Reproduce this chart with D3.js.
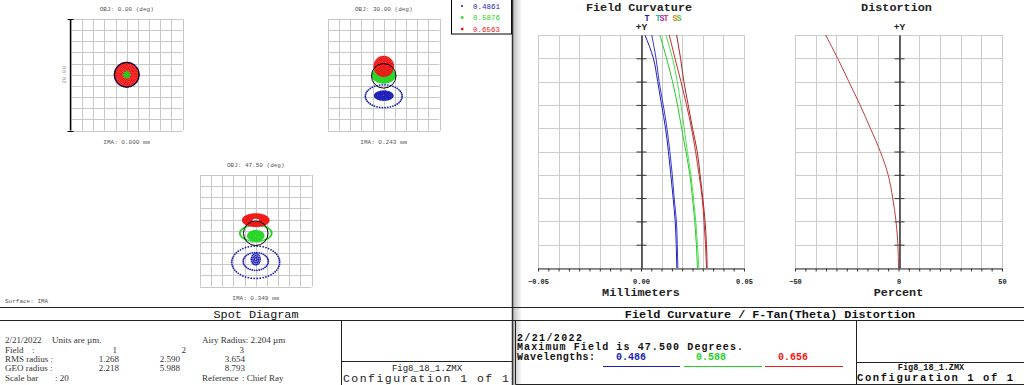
<!DOCTYPE html>
<html>
<head>
<meta charset="utf-8">
<script src="https://cdn.jsdelivr.net/npm/d3@7"></script>
<style>
html, body { margin: 0; padding: 0; background: #fff; }
svg { display: block; }
text { font-family: "Liberation Mono", "DejaVu Sans Mono", monospace; }
.serif { font-family: "Liberation Serif", "DejaVu Serif", serif; }
</style>
</head>
<body>
<svg id="chart" width="1024" height="385"></svg>
<script>
'use strict';

// ---------- spot diagram data (um, relative to chief ray) ----------
const waveLabels = ['0.4861', '0.5876', '0.6563'];
const waveColors = ['#1c1cb8', '#22d422', '#f01818'];
const objLabels = ['OBJ: 0.00 (deg)', 'OBJ: 30.00 (deg)', 'OBJ: 47.50 (deg)'];
const imaLabels = ['IMA: 0.000 mm', 'IMA: 0.243 mm', 'IMA: 0.349 mm'];
const fieldNums = ['1', '2', '3'];
const rmsRadius = ['1.268', '2.590', '3.654'];
const geoRadius = ['2.218', '5.988', '8.793'];
const airyRadius = 2.204;
const scaleBar = 20;
const airyCenter = [[0, 0], [0, -0.2], [0, -0.45]];

// ring groups: [wave, cx, cy, rx, ry, rings, innerFrac, dotsOnOuterRing]
const spotField1 = [
    [0, 0, 0, 2.2, 2.2, 1, 1, 48],
    [2, 0, 0, 2.05, 2.05, 9, 0.1, 44],
    [1, 0, 0, 0.6, 0.6, 3, 0.3, 8]
];
const spotField2 = [
    [0, 0, -3.85, 3.3, 2.05, 1, 1, 42],
    [0, 0, -3.75, 1.6, 0.8, 5, 0.2, 36],
    [1, 0, -0.1, 2.0, 1.35, 7, 0.1, 44],
    [2, 0, 1.5, 1.7, 1.75, 8, 0.1, 40]
];
const spotField3 = [
    [0, 0, -5.65, 4.3, 2.9, 1, 1, 50],
    [0, 0, -5.5, 2.25, 1.6, 1, 1, 34],
    [0, 0, -5.1, 0.8, 1.0, 3, 0.3, 18],
    [1, 0, -0.45, 2.85, 1.45, 1, 1, 46],
    [1, 0, -0.9, 1.4, 0.9, 5, 0.2, 28],
    [2, 0, 1.9, 2.3, 1.1, 6, 0.35, 44]
];
const spotFields = [spotField1, spotField2, spotField3];

// ---------- field curvature / distortion data ----------
const fieldFrac = [0, 0.1, 0.2, 0.3, 0.4, 0.5, 0.6, 0.7, 0.8, 0.9, 1.0];
const fcBlueT  = [0.0174, 0.0171, 0.0166, 0.0156, 0.0145, 0.0133, 0.0119, 0.0100, 0.0081, 0.0060, 0.0019];
const fcBlueS  = [0.0179, 0.0176, 0.0172, 0.0161, 0.0152, 0.0140, 0.0126, 0.0108, 0.0088, 0.0073, 0.0052];
const fcGreenT = [0.0274, 0.0269, 0.0261, 0.0250, 0.0237, 0.0218, 0.0197, 0.0177, 0.0153, 0.0124, 0.0092];
const fcGreenS = [0.0281, 0.0274, 0.0266, 0.0255, 0.0242, 0.0225, 0.0210, 0.0194, 0.0176, 0.0153, 0.0121];
const fcRedT   = [0.0318, 0.0313, 0.0306, 0.0297, 0.0282, 0.0265, 0.0245, 0.0221, 0.0194, 0.0165, 0.0137];
const fcRedS   = [0.0321, 0.0318, 0.0311, 0.0300, 0.0287, 0.0273, 0.0250, 0.0229, 0.0208, 0.0192, 0.0173];
const distortion = [0, -0.3, -1.2, -2.8, -5.0, -8.8, -13.6, -18.6, -24.0, -29.4, -35.2];
const fcWaves = ['0.486', '0.588', '0.656'];

const svg = d3.select('#chart');
const crisp = v => Math.round(v) + 0.5;

// ================= left panel : spot diagrams =================
const boxSize = 111.5;
const boxes = [[71, 19], [328, 19], [200, 175]];

spotFields.forEach((rings, i) => {
    let [bx, by] = boxes[i];
    let x = d3.scaleLinear().domain([-scaleBar / 2, scaleBar / 2]).range([bx, bx + boxSize]);
    let y = d3.scaleLinear().domain([-scaleBar / 2, scaleBar / 2]).range([by + boxSize, by]);
    let g = svg.append('g');

    g.selectAll('.vg').data(x.ticks(10)).enter().append('line')
        .attr('x1', d => crisp(x(d))).attr('x2', d => crisp(x(d)))
        .attr('y1', by).attr('y2', by + boxSize)
        .attr('stroke', '#c8c8c8');
    g.selectAll('.hg').data(y.ticks(10)).enter().append('line')
        .attr('y1', d => crisp(y(d))).attr('y2', d => crisp(y(d)))
        .attr('x1', bx).attr('x2', bx + boxSize)
        .attr('stroke', '#c8c8c8');

    // ray intercepts, sampled ring by ring
    let pts = [];
    rings.forEach(([w, cx, cy, rx, ry, n, inner, dots]) => {
        for (let k = 0; k < n; k++) {
            let f = n === 1 ? 1 : inner + (1 - inner) * k / (n - 1);
            let m = Math.max(6, Math.round(dots * f));
            for (let j = 0; j < m; j++) {
                let a = 2 * Math.PI * j / m;
                pts.push({ w, u: cx + rx * f * Math.cos(a), v: cy + ry * f * Math.sin(a) });
            }
        }
    });
    g.selectAll('.dot').data(pts).enter().each(function (d) {
        let s = d3.select(this);
        if (d.w === 0) {
            s.append('circle').attr('cx', x(d.u)).attr('cy', y(d.v)).attr('r', 0.9)
             .attr('fill', waveColors[0]);
        } else {
            s.append('rect').attr('x', x(d.u) - 0.85).attr('y', y(d.v) - 0.85)
             .attr('width', 1.7).attr('height', 1.7).attr('fill', waveColors[d.w]);
        }
    });

    g.append('circle')
        .attr('cx', x(airyCenter[i][0])).attr('cy', y(airyCenter[i][1]))
        .attr('r', x(airyRadius) - x(0))
        .attr('fill', 'none').attr('stroke', '#000').attr('stroke-width', 1);

    g.append('text').attr('x', bx + boxSize / 2).attr('y', by - 8)
        .attr('text-anchor', 'middle').attr('font-size', 6).attr('fill', '#555')
        .text(objLabels[i]);
    g.append('text').attr('x', bx + boxSize / 2).attr('y', by + boxSize + 13)
        .attr('text-anchor', 'middle').attr('font-size', 6).attr('fill', '#555')
        .text(imaLabels[i]);

    if (i === 0) {
        let sbx = crisp(bx - 1);
        g.append('line').attr('x1', sbx).attr('x2', sbx).attr('y1', by).attr('y2', by + boxSize)
            .attr('stroke', '#000').attr('stroke-width', 1.4);
        [by, by + boxSize].forEach(yy => g.append('line')
            .attr('x1', sbx - 3).attr('x2', sbx + 3).attr('y1', crisp(yy)).attr('y2', crisp(yy))
            .attr('stroke', '#000'));
        g.append('text').attr('transform', `translate(${bx - 5},${by + boxSize / 2}) rotate(-90)`)
            .attr('text-anchor', 'middle').attr('font-size', 6).attr('fill', '#999')
            .text(scaleBar.toFixed(2));
    }
});

// wavelength legend
let lg = svg.append('g');
lg.append('rect').attr('x', 451.5).attr('y', -1).attr('width', 60).attr('height', 35)
    .attr('fill', '#fff').attr('stroke', '#000');
waveLabels.forEach((t, i) => {
    let yy = 6 + i * 11.5;
    if (i === 0) {
        lg.append('circle').attr('cx', 462).attr('cy', yy).attr('r', 1).attr('fill', waveColors[0]);
    } else {
        lg.append('rect').attr('x', 461).attr('y', yy - 1.2).attr('width', 2.4).attr('height', 2.4)
            .attr('fill', waveColors[i]);
    }
    lg.append('text').attr('x', 473).attr('y', yy + 2.5).attr('font-size', 7.5)
        .attr('fill', waveColors[i]).text(t);
});

svg.append('text').attr('x', 5).attr('y', 303).attr('font-size', 6).attr('fill', '#555')
    .text('Surface: IMA');

// bottom frame, left
let fr = svg.append('g').attr('stroke', '#222').attr('stroke-width', 1);
fr.append('line').attr('x1', 0).attr('x2', 512).attr('y1', 307.5).attr('y2', 307.5);
fr.append('line').attr('x1', 0).attr('x2', 512).attr('y1', 320.5).attr('y2', 320.5);
fr.append('line').attr('x1', 341.5).attr('x2', 341.5).attr('y1', 320.5).attr('y2', 385);
fr.append('line').attr('x1', 341.5).attr('x2', 512).attr('y1', 361.5).attr('y2', 361.5);

svg.append('text').attr('x', 256).attr('y', 318).attr('text-anchor', 'middle')
    .attr('font-size', 11.8).attr('fill', '#111').text('Spot Diagram');

let info = svg.append('g').attr('class', 'serif').attr('font-size', 9).attr('fill', '#333');
const rowY = [343, 352.5, 362, 371, 381];
const txt = (x, y, s, anchor) => info.append('text').attr('class', 'serif')
    .attr('x', x).attr('y', y).attr('text-anchor', anchor || 'start').text(s);
txt(5, rowY[0], '2/21/2022');
txt(52, rowY[0], 'Units are \u00b5m.');
txt(202, rowY[0], 'Airy Radius: ' + airyRadius.toFixed(3) + ' \u00b5m');
txt(5, rowY[1], 'Field');
txt(32, rowY[1], ':');
txt(5, rowY[2], 'RMS radius :');
txt(5, rowY[3], 'GEO radius :');
[117, 186, 244].forEach((xx, i) => txt(xx, rowY[1], fieldNums[i], 'end'));
[119, 180, 245].forEach((xx, i) => {
    txt(xx, rowY[2], rmsRadius[i], 'end');
    txt(xx, rowY[3], geoRadius[i], 'end');
});
txt(5, rowY[4], 'Scale bar');
txt(55, rowY[4], ': ' + scaleBar);
txt(202, rowY[4], 'Reference');
txt(242, rowY[4], ': Chief Ray');

svg.append('text').attr('x', 427).attr('y', 371).attr('text-anchor', 'middle')
    .attr('font-size', 9).attr('fill', '#222').text('Fig8_18_1.ZMX');
svg.append('text').attr('x', 343).attr('y', 382).attr('textLength', 166)
    .attr('lengthAdjust', 'spacing').attr('font-size', 11.5).attr('fill', '#222')
    .text('Configuration 1 of 1');

// ================= divider =================
let defs = svg.append('defs');
let grad = defs.append('linearGradient').attr('id', 'shade').attr('x1', 0).attr('x2', 1);
grad.append('stop').attr('offset', 0).attr('stop-color', '#bdbdbd');
grad.append('stop').attr('offset', 1).attr('stop-color', '#fff');
svg.append('rect').attr('x', 513).attr('y', 0).attr('width', 9).attr('height', 385)
    .attr('fill', 'url(#shade)');
svg.append('line').attr('x1', 512.5).attr('x2', 512.5).attr('y1', 0).attr('y2', 385)
    .attr('stroke', '#333').attr('stroke-width', 1.5);

// ================= right panel : field curvature & distortion =================
const plotTop = 35, plotBottom = 268;

function plotFrame(left, right, domain, title, xLabel, fmt) {
    let x = d3.scaleLinear().domain(domain).range([left, right]);
    let y = d3.scaleLinear().domain([0, 1]).range([plotBottom, plotTop]);
    let g = svg.append('g');
    g.selectAll('.vg').data(x.ticks(10)).enter().append('line')
        .attr('x1', d => crisp(x(d))).attr('x2', d => crisp(x(d)))
        .attr('y1', plotTop).attr('y2', plotBottom).attr('stroke', '#cccccc');
    g.selectAll('.hg').data(y.ticks(10)).enter().append('line')
        .attr('y1', d => crisp(y(d))).attr('y2', d => crisp(y(d)))
        .attr('x1', left).attr('x2', right).attr('stroke', '#cccccc');

    let cx = crisp(x(0));
    let inner = y.ticks(10).filter(d => d > 0 && d < 1);
    g.append('g').attr('transform', `translate(${cx},0)`)
        .call(d3.axisLeft(y).tickValues(inner).tickSize(5).tickSizeOuter(0).tickFormat(''));
    g.append('g').attr('transform', `translate(${cx},0)`)
        .call(d3.axisRight(y).tickValues(inner).tickSize(5).tickSizeOuter(0).tickFormat(''));

    let ends = [domain[0], 0, domain[1]];
    let xa = g.append('g').attr('transform', `translate(0,${crisp(plotBottom)})`)
        .call(d3.axisBottom(x).tickValues(x.ticks(20)).tickSize(3).tickSizeOuter(0).tickPadding(8)
            .tickFormat(d => ends.some(e => Math.abs(e - d) < 1e-9) ? fmt(d) : ''));
    xa.selectAll('text').attr('font-family', '"Liberation Mono", monospace')
        .attr('font-size', 7).attr('font-weight', 'bold').attr('fill', '#222');
    g.selectAll('.domain, .tick line').attr('stroke', '#333');

    g.append('text').attr('x', (left + right) / 2).attr('y', 296).attr('text-anchor', 'middle')
        .attr('font-size', 11.8).attr('font-weight', 'bold').attr('fill', '#222').text(xLabel);
    g.append('text').attr('x', (left + right) / 2 - 2).attr('y', 11).attr('text-anchor', 'middle')
        .attr('font-size', 11.8).attr('font-weight', 'bold').attr('fill', '#222').text(title);
    g.append('text').attr('x', cx).attr('y', 30).attr('text-anchor', 'middle')
        .attr('font-size', 9.5).attr('font-weight', 'bold').attr('fill', '#222').text('+Y');
    return { x, y, g };
}

let fc = plotFrame(538, 744, [-0.05, 0.05], 'Field Curvature', 'Millimeters', d3.format('.2f'));
let fcLine = d3.line().x(d => fc.x(d)).y((d, i) => fc.y(fieldFrac[i])).curve(d3.curveMonotoneY);
const fcSeries = [
    [fcBlueT, '#2020b4'], [fcBlueS, '#3a3ad0'],
    [fcGreenT, '#28cc28'], [fcGreenS, '#50de50'],
    [fcRedT, '#c83030'], [fcRedS, '#a82828']
];
fcSeries.forEach(([s, c]) => fc.g.append('path').attr('d', fcLine(s))
    .attr('fill', 'none').attr('stroke', c).attr('stroke-width', 1));

// T / S markers above the curves
const tsMarks = [['T', 647, '#2020c0'], ['T', 658, '#20c0a0'], ['S', 662, '#c020c0'],
                 ['T', 666, '#e04060'], ['S', 675, '#e08020'], ['S', 679, '#60c020']];
tsMarks.forEach(([t, xx, c]) => fc.g.append('text').attr('x', xx).attr('y', 21)
    .attr('text-anchor', 'middle').attr('font-size', 8.5).attr('font-weight', 'bold')
    .attr('fill', c).text(t));

let ds = plotFrame(795, 1002, [-50, 50], 'Distortion', 'Percent', d3.format('d'));
let dsLine = d3.line().x(d => ds.x(d)).y((d, i) => ds.y(fieldFrac[i])).curve(d3.curveMonotoneY);
ds.g.append('path').attr('d', dsLine(distortion))
    .attr('fill', 'none').attr('stroke', '#c04040').attr('stroke-width', 1);

// bottom frame, right
let fr2 = svg.append('g').attr('stroke', '#222').attr('stroke-width', 1);
fr2.append('line').attr('x1', 512).attr('x2', 1024).attr('y1', 307.5).attr('y2', 307.5);
fr2.append('line').attr('x1', 512).attr('x2', 1024).attr('y1', 320.5).attr('y2', 320.5);
fr2.append('line').attr('x1', 515.5).attr('x2', 515.5).attr('y1', 320.5).attr('y2', 384.5);
fr2.append('line').attr('x1', 515.5).attr('x2', 1024).attr('y1', 384.5).attr('y2', 384.5);
fr2.append('line').attr('x1', 856.5).attr('x2', 856.5).attr('y1', 320.5).attr('y2', 384.5);
fr2.append('line').attr('x1', 856.5).attr('x2', 1024).attr('y1', 362.5).attr('y2', 362.5);

svg.append('text').attr('x', 770).attr('y', 318).attr('text-anchor', 'middle')
    .attr('font-size', 11.8).attr('font-weight', 'bold').attr('fill', '#111')
    .text('Field Curvature / F-Tan(Theta) Distortion');

let rinfo = svg.append('g').attr('font-size', 10).attr('font-weight', 'bold').attr('fill', '#111');
rinfo.append('text').attr('x', 517).attr('y', 341).attr('textLength', 65)
    .attr('lengthAdjust', 'spacing').text('2/21/2022');
rinfo.append('text').attr('x', 517).attr('y', 350).attr('textLength', 226)
    .attr('lengthAdjust', 'spacing').text('Maximum Field is 47.500 Degrees.');
rinfo.append('text').attr('x', 517).attr('y', 359.5).attr('textLength', 78)
    .attr('lengthAdjust', 'spacing').text('Wavelengths:');
const wlCenters = [631, 711, 793];
const wlUnder = [[603, 680], [684, 762], [765, 843]];
fcWaves.forEach((t, i) => {
    rinfo.append('text').attr('x', wlCenters[i]).attr('y', 359.5).attr('text-anchor', 'middle')
        .attr('fill', waveColors[i]).text(t);
    svg.append('line').attr('x1', wlUnder[i][0]).attr('x2', wlUnder[i][1])
        .attr('y1', 366.5).attr('y2', 366.5).attr('stroke', waveColors[i]);
});

svg.append('text').attr('x', 931).attr('y', 370).attr('text-anchor', 'middle')
    .attr('font-size', 8.5).attr('font-weight', 'bold').attr('fill', '#111').text('Fig8_18_1.ZMX');
svg.append('text').attr('x', 857).attr('y', 381).attr('textLength', 156)
    .attr('lengthAdjust', 'spacing').attr('font-size', 10.5).attr('font-weight', 'bold')
    .attr('fill', '#111').text('Configuration 1 of 1');
</script>
</body>
</html>
